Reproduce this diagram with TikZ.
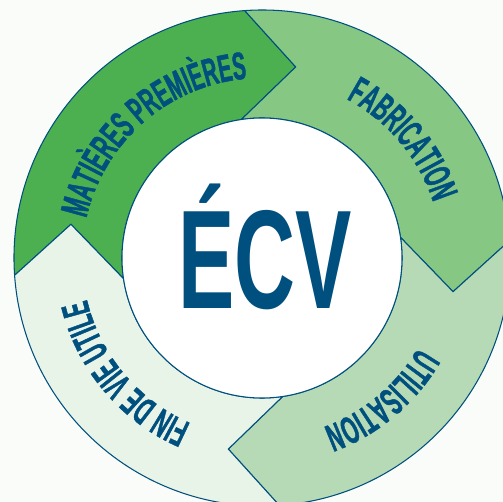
\documentclass[tikz,border=0pt]{standalone}
\usepackage{fontspec}
\usepackage{xcolor}
\usepackage{tikz}
\usetikzlibrary{decorations.text}
\newfontfamily\condfont[FakeStretch=0.6]{Liberation Sans}
\newfontfamily\etiqfont[FakeStretch=0.52, BoldFeatures={FakeBold=1.2}]{Liberation Sans}
\definecolor{ecvblue}{HTML}{00507F}
\definecolor{vert1}{HTML}{4DB050}
\definecolor{vert2}{HTML}{86C784}
\definecolor{vert3}{HTML}{B5DAB5}
\definecolor{vert4}{HTML}{E8F4E8}
\definecolor{fond}{HTML}{FAFCFA}
\def\rext{4.96}
\def\rint{2.80}
\def\rpointe{3.88}
\def\rtexte{3.60}
\def\labelfont{\etiqfont\bfseries\fontsize{22}{22}\selectfont}

\begin{document}
\begin{tikzpicture}[x=1cm, y=1cm, line width=0.6pt,
    etape/.style={draw=ecvblue},
    etiquette/.style={decorate, decoration={text along path, text align=center, text color=ecvblue}}]
\fill[fond] (-5.24,-4.88) rectangle (4.82,5.16);
\useasboundingbox (-5.24,-4.88) rectangle (4.82,5.16);
\coordinate (o) at (0,0);
% anneau : quatre fleches
\filldraw[etape, fill=vert1] (184:\rext) arc[start angle=184, end angle=94, radius=\rext] -- (80:\rpointe) -- (98.5:\rint) arc[start angle=98.5, end angle=188.5, radius=\rint] -- (170:\rpointe) -- cycle;
\filldraw[etape, fill=vert2] (94:\rext) arc[start angle=94, end angle=4, radius=\rext] -- (-10:\rpointe) -- (8.5:\rint) arc[start angle=8.5, end angle=98.5, radius=\rint] -- (80:\rpointe) -- cycle;
\filldraw[etape, fill=vert3] (4:\rext) arc[start angle=4, end angle=-86, radius=\rext] -- (-100:\rpointe) -- (-81.5:\rint) arc[start angle=-81.5, end angle=8.5, radius=\rint] -- (-10:\rpointe) -- cycle;
\filldraw[etape, fill=vert4] (-86:\rext) arc[start angle=-86, end angle=-176, radius=\rext] -- (-190:\rpointe) -- (-171.5:\rint) arc[start angle=-171.5, end angle=-81.5, radius=\rint] -- (-100:\rpointe) -- cycle;
% cercle central
\node[circle, draw=ecvblue, fill=white, minimum size=5.6cm, inner sep=0pt] (centre) at (o) {};
\node[anchor=base, text=ecvblue, inner sep=0pt] (ecv) at (0.06,-1.01) {\condfont\bfseries\fontsize{80}{80}\selectfont ÉCV};
% textes
\path[etiquette, decoration={text={|\labelfont|MATIÈRES PREMIÈRES}}] (181:\rtexte) arc[start angle=181, end angle=81, radius=\rtexte];
\path[etiquette, decoration={text={|\labelfont|FABRICATION}}] (90:\rtexte) arc[start angle=90, end angle=-10, radius=\rtexte];
\path[etiquette, decoration={text={|\labelfont|UTILISATION}}] (0:\rtexte) arc[start angle=0, end angle=-100, radius=\rtexte];
\path[etiquette, decoration={text={|\labelfont|FIN DE VIE UTILE}}] (270:\rtexte) arc[start angle=270, end angle=170, radius=\rtexte];
\end{tikzpicture}
\end{document}
